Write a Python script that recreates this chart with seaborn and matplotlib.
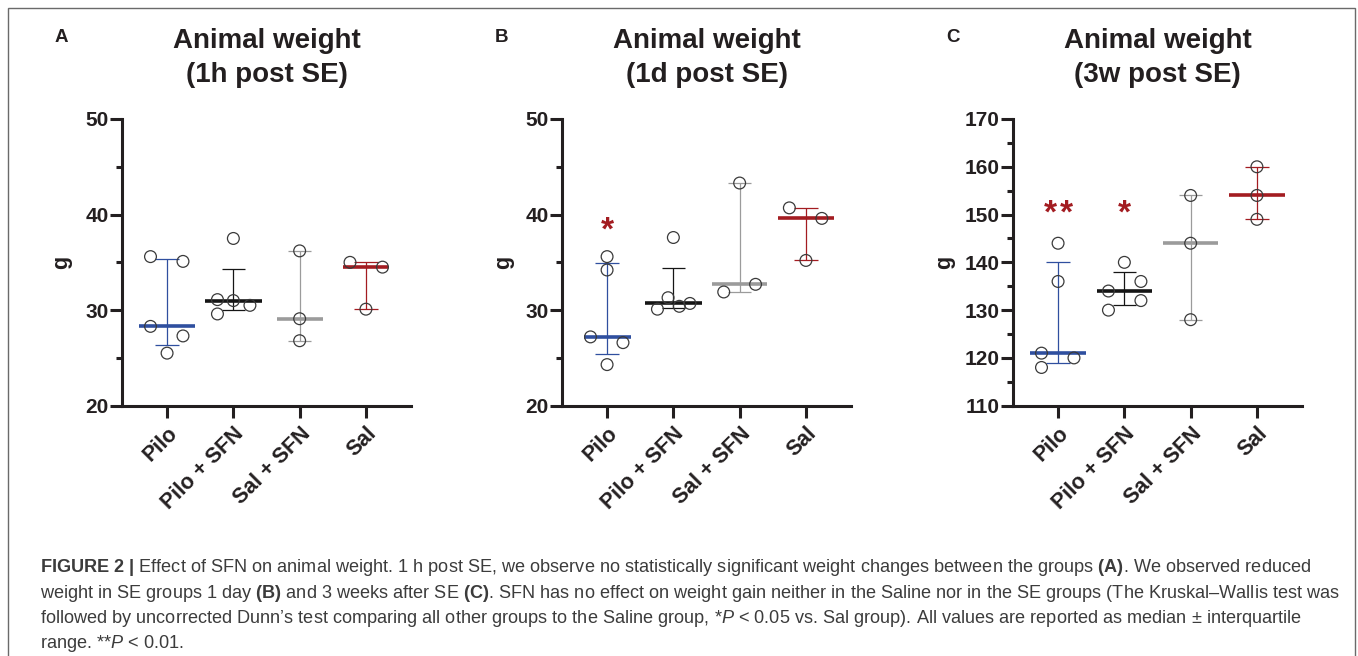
import numpy as np
import pandas as pd
import matplotlib
matplotlib.use("Agg")
import matplotlib.pyplot as plt
import matplotlib.transforms as mtransforms
import seaborn as sns
from matplotlib.patches import Rectangle
from matplotlib.ticker import MultipleLocator

# ---------------- data ----------------
groups = ["Pilo", "Pilo + SFN", "Sal + SFN", "Sal"]

# Panel A: 1 h post SE (g)
a_pilo = [35.6, 35.1, 28.3, 27.3, 25.5]
a_pilo_sfn = [37.5, 31.1, 31.0, 30.5, 29.6]
a_sal_sfn = [36.2, 29.1, 26.8]
a_sal = [35.0, 34.5, 30.1]

# Panel B: 1 day post SE (g)
b_pilo = [35.6, 34.2, 27.2, 26.6, 24.3]
b_pilo_sfn = [37.6, 31.3, 30.1, 30.4, 30.7]
b_sal_sfn = [43.3, 31.9, 32.7]
b_sal = [40.7, 39.6, 35.2]

# Panel C: 3 weeks post SE (g)
c_pilo = [144, 136, 121, 120, 118]
c_pilo_sfn = [140, 134, 136, 132, 130]
c_sal_sfn = [154, 144, 128]
c_sal = [160, 154, 149]

titles = [("Animal weight", "(1h post SE)"),
          ("Animal weight", "(1d post SE)"),
          ("Animal weight", "(3w post SE)")]
letters = ["A", "B", "C"]
y_label = "g"
yticks_ab = [20, 30, 40, 50]
yticks_c = [110, 120, 130, 140, 150, 160, 170]
sig_b = ["*", "", "", ""]
sig_c = ["**", "*", "", ""]

caption_lines = [
    r"$\mathbf{FIGURE\ 2\ |}$ Effect of SFN on animal weight. 1 h post SE, we observe no statistically significant weight changes between the groups $\mathbf{(A)}$. We observed reduced",
    r"weight in SE groups 1 day $\mathbf{(B)}$ and 3 weeks after SE $\mathbf{(C)}$. SFN has no effect on weight gain neither in the Saline nor in the SE groups (The Kruskal" + "\u2013" + "Wallis test was",
    r"followed by uncorrected Dunn" + "\u2019" + r"s test comparing all other groups to the Saline group, *$\mathit{P}$ < 0.05 vs. Sal group). All values are reported as median " + "\u00b1" + " interquartile",
    r"range. **$\mathit{P}$ < 0.01.",
]

# ---------------- layout / style ----------------
W, H = 1358, 656
group_colors = ["#2f4f9f", "#151515", "#9b9b9b", "#a31c21"]
star_color = "#a31c21"
text_color = "#231f20"

# horizontal scatter offsets (category units)
jit_a = [[-0.25, 0.24, -0.25, 0.24, 0], [0, -0.24, 0, 0.25, -0.24], [0, 0, 0], [-0.24, 0.25, 0]]
jit_b = [[0, 0, -0.25, 0.24, 0], [0, -0.08, -0.24, 0.09, 0.25], [0, -0.24, 0.24], [-0.25, 0.24, 0]]
jit_c = [[0, 0, -0.25, 0.24, -0.25], [0, -0.24, 0.25, 0.25, -0.24], [0, 0, 0], [0, 0, 0]]
med_w = [[0.85, 0.85, 0.69, 0.68], [0.71, 0.85, 0.84, 0.85], [0.84, 0.84, 0.84, 0.85]]
cap_w = 0.35
star_y = [None, 38.8, 151.3]
star_fs = 24
star_step = 11.5  # points between adjacent stars

panels = [
    dict(vals=[a_pilo, a_pilo_sfn, a_sal_sfn, a_sal], jit=jit_a, ylim=(20, 50), yticks=yticks_ab, sig=None,
         left=122, ylab_x=62),
    dict(vals=[b_pilo, b_pilo_sfn, b_sal_sfn, b_sal], jit=jit_b, ylim=(20, 50), yticks=yticks_ab, sig=sig_b,
         left=562, ylab_x=504),
    dict(vals=[c_pilo, c_pilo_sfn, c_sal_sfn, c_sal], jit=jit_c, ylim=(110, 170), yticks=yticks_c, sig=sig_c,
         left=1013, ylab_x=945),
]
ax_w, ax_top, ax_bot = 289, 119, 405.7

sns.set_theme(style="ticks")
plt.rcParams["font.family"] = ["Liberation Sans", "DejaVu Sans"]
plt.rcParams["text.color"] = text_color
plt.rcParams["mathtext.fontset"] = "custom"
plt.rcParams["mathtext.rm"] = "Liberation Sans"
plt.rcParams["mathtext.it"] = "Liberation Sans:italic"
plt.rcParams["mathtext.bf"] = "Liberation Sans:bold"

fig = plt.figure(figsize=(W / 100, H / 100), dpi=100)
fig.patch.set_facecolor("white")

label_shift = mtransforms.ScaledTranslation(-0.05, -0.02, fig.dpi_scale_trans)

for k, p in enumerate(panels):
    ax = fig.add_axes([p["left"] / W, 1 - ax_bot / H, ax_w / W, (ax_bot - ax_top) / H])
    ax.set_facecolor("none")
    rows = []
    for gi, (g, vals) in enumerate(zip(groups, p["vals"])):
        for v, j in zip(vals, p["jit"][gi]):
            rows.append({"group": g, "value": v, "pos": gi + j})
    df = pd.DataFrame(rows)

    # median and interquartile range (Prism-style quartiles)
    for gi, g in enumerate(groups):
        v = df.loc[df.group == g, "value"].to_numpy()
        q1, med, q3 = np.percentile(v, [25, 50, 75], method="weibull")
        c = group_colors[gi]
        ax.vlines(gi, q1, q3, color=c, lw=0.9, zorder=2)
        ax.hlines([q1, q3], gi - cap_w / 2, gi + cap_w / 2, color=c, lw=0.9, zorder=2)
        hw = med_w[k][gi] / 2
        ax.hlines(med, gi - hw, gi + hw, color=c, lw=2.6, zorder=2)

    sns.scatterplot(data=df, x="pos", y="value", ax=ax, color="none", edgecolor="#3a3a3a",
                    linewidth=0.9, s=72, marker="o", zorder=3, legend=False)

    if p["sig"]:
        for gi, s in enumerate(p["sig"]):
            n = len(s)
            for si in range(n):
                dx = (si - (n - 1) / 2) * star_step
                ax.annotate("*", xy=(gi, star_y[k]), xytext=(dx, -0.42 * star_fs), textcoords="offset points",
                            ha="center", va="baseline", fontsize=star_fs, fontweight="bold",
                            color=star_color, annotation_clip=False)

    ax.set_xlim(-0.68, 3.68)
    ax.set_ylim(*p["ylim"])
    ax.set_yticks(p["yticks"])
    ax.yaxis.set_minor_locator(MultipleLocator(5))
    ax.set_xticks(range(len(groups)))
    ax.set_xticklabels(groups, rotation=45, ha="right", rotation_mode="anchor",
                       fontsize=15.5, fontweight="bold", color=text_color)
    for lab in ax.get_xticklabels():
        lab.set_transform(lab.get_transform() + label_shift)
    for lab in ax.get_yticklabels():
        lab.set_fontweight("bold")
        lab.set_fontsize(15)
        lab.set_color(text_color)
    ax.set_xlabel("")
    ax.set_ylabel("")
    for side in ["top", "right"]:
        ax.spines[side].set_visible(False)
    for side in ["left", "bottom"]:
        ax.spines[side].set_linewidth(2.2)
        ax.spines[side].set_color(text_color)
    ax.tick_params(axis="y", which="major", length=8.6, width=2.2, pad=1, color=text_color)
    ax.tick_params(axis="y", which="minor", length=4.3, width=2.2, color=text_color)
    ax.tick_params(axis="x", which="major", length=8.6, width=2.2, pad=4, color=text_color)

    cx = (p["left"] + ax_w / 2) / W
    fig.text(cx, 1 - 48 / H, titles[k][0], ha="center", va="baseline", fontsize=20, fontweight="bold")
    fig.text(cx, 1 - 82 / H, titles[k][1], ha="center", va="baseline", fontsize=20, fontweight="bold")
    fig.text((p["left"] - 67) / W, 1 - 42 / H, letters[k], ha="left", va="baseline", fontsize=13.5,
             fontweight="bold")
    fig.text(p["ylab_x"] / W, 1 - (ax_top + ax_bot) / 2 / H, y_label, rotation=90, ha="center", va="center",
             fontsize=15.5, fontweight="bold")

# caption
baselines = [572, 597.5, 623, 648.5]
for line, yb in zip(caption_lines, baselines):
    fig.text(40 / W, 1 - yb / H, line, ha="left", va="baseline", fontsize=13.1, color="#3c3c3c")

# frame around the figure
fig.patches.append(Rectangle((8 / W, -0.02), (1355 - 8) / W, 1.02 - 8 / H, transform=fig.transFigure,
                             fill=False, edgecolor="#6a6a6a", lw=1.0, clip_on=False))

fig.savefig("out.png", dpi=100, facecolor="white")
